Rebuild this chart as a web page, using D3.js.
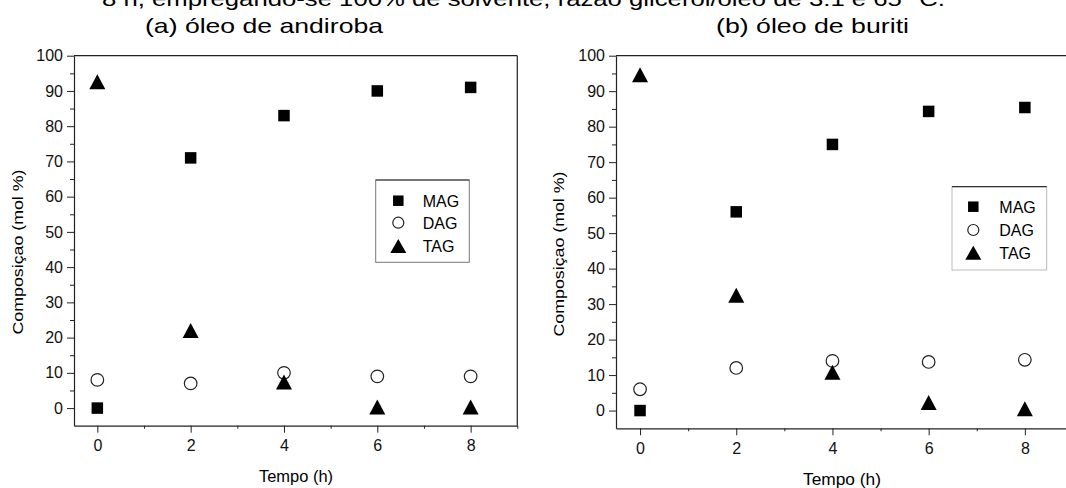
<!DOCTYPE html>
<html>
<head>
<meta charset="utf-8">
<script src="https://cdn.jsdelivr.net/npm/d3@7"></script>
<style>
  body { margin: 0; background: #fff; }
  svg { display: block; font-family: 'Liberation Sans', Arial, sans-serif; }
</style>
</head>
<body>
<div id="chart"></div>
<script>
// data
const tempo = [0, 2, 4, 6, 8]
const series = ['MAG', 'DAG', 'TAG']

const andirobaMAG = [0, 71, 83, 90, 91]
const andirobaDAG = [8, 7, 10, 9, 9]
const andirobaTAG = [92.6, 22, 7.4, 0.3, 0.3]

const buritiMAG = [0, 56, 75, 84.3, 85.4]
const buritiDAG = [6, 12, 14, 13.7, 14.3]
const buritiTAG = [94.6, 32.5, 10.8, 2.3, 0.5]

const yTicks = [0, 10, 20, 30, 40, 50, 60, 70, 80, 90, 100]
const yMinor = [5, 15, 25, 35, 45, 55, 65, 75, 85, 95]
const xTicks = [0, 2, 4, 6, 8]
const xMinor = [1, 3, 5, 7, 9]

const width = 1066
const height = 488

const svg = d3
  .select('#chart')
  .append('svg')
  .attr('width', width)
  .attr('height', height)

// top caption (partly cut off in the original) and panel titles
svg.append('text')
  .attr('x', 102).attr('y', 6)
  .attr('textLength', 843).attr('lengthAdjust', 'spacingAndGlyphs')
  .style('font-size', '21px')
  .text('8 h, empregando-se 100% de solvente, razão glicerol/óleo de 3:1 e 65 °C.')

const panels = [
  {
    title: '(a) óleo de andiroba', titleX: 145, titleW: 238,
    x0: 74, x1: 517.3, yTop: 55.7, yBot: 425.7, frameRight: true,
    values: { MAG: andirobaMAG, DAG: andirobaDAG, TAG: andirobaTAG },
    ylabX: 22.5, ylabY: 252, xlabX: 296, xlabY: 482, xlabW: 74,
    legend: { x: 375.7, y: 180, w: 93.6, h: 82.3, symX: 398.3, txtX: 422.7, rows: [200.7, 222.7, 246], sideColor: '#777' }
  },
  {
    title: '(b) óleo de buriti', titleX: 716, titleW: 193,
    x0: 616, x1: 616 + 9.5 * 48.1, yTop: 55.7, yBot: 428.3, frameRight: false,
    values: { MAG: buritiMAG, DAG: buritiDAG, TAG: buritiTAG },
    ylabX: 563.5, ylabY: 254, xlabX: 842, xlabY: 485, xlabW: 78,
    legend: { x: 952, y: 186.7, w: 94.7, h: 83.3, symX: 973.3, txtX: 999.3, rows: [206.7, 230, 252.7], sideColor: '#bbb' }
  }
]

// triangle with its bounding box centred on the data point
const triangle = (w, h) => `M0,${-h / 2}L${w / 2},${h / 2}L${-w / 2},${h / 2}Z`

function marker(g, name, big) {
  if (name === 'MAG') {
    const s = big ? 11.5 : 10.5
    g.append('rect').attr('x', -s / 2).attr('y', -s / 2).attr('width', s).attr('height', s).attr('fill', '#000')
  } else if (name === 'DAG') {
    g.append('circle').attr('r', big ? 6.3 : 5.5).attr('fill', '#fff').attr('stroke', '#222').attr('stroke-width', 1.2)
  } else {
    g.append('path').attr('d', big ? triangle(16, 15) : triangle(16, 14)).attr('fill', '#000')
  }
}

panels.forEach((p) => {
  const x = d3.scaleLinear().domain([-0.5, 9]).range([p.x0, p.x1])
  const y = d3.scaleLinear().domain([-5, 100]).range([p.yBot, p.yTop])
  const g = svg.append('g')

  svg.append('text')
    .attr('x', p.titleX).attr('y', 33)
    .attr('textLength', p.titleW).attr('lengthAdjust', 'spacingAndGlyphs')
    .style('font-size', '21px')
    .text(p.title)

  // frame lines
  g.append('line').attr('x1', x(-0.5)).attr('x2', x(9)).attr('y1', y(100)).attr('y2', y(100))
    .attr('stroke', '#222').attr('stroke-width', 1.2)
  if (p.frameRight) {
    g.append('line').attr('x1', x(9)).attr('x2', x(9)).attr('y1', y(100)).attr('y2', y(-5))
      .attr('stroke', '#222').attr('stroke-width', 1.2)
  }

  // y axis
  g.append('g').attr('transform', `translate(${x(-0.5)},0)`)
    .call(d3.axisLeft(y).tickValues(yTicks).tickSize(7).tickPadding(4).tickSizeOuter(0))
  g.append('g').attr('transform', `translate(${x(-0.5)},0)`)
    .call(d3.axisLeft(y).tickValues(yMinor).tickSize(4).tickFormat('').tickSizeOuter(0))
    .select('.domain').remove()

  // x axis
  g.append('g').attr('transform', `translate(0,${y(-5)})`)
    .call(d3.axisBottom(x).tickValues(xTicks).tickSize(7).tickPadding(7).tickSizeOuter(0))
  g.append('g').attr('transform', `translate(0,${y(-5)})`)
    .call(d3.axisBottom(x).tickValues(xMinor).tickSize(3).tickFormat('').tickSizeOuter(0))
    .select('.domain').remove()

  g.selectAll('.domain').attr('stroke', '#222').attr('stroke-width', 1.2)
  g.selectAll('.tick line').attr('stroke', '#222')
  g.selectAll('.tick text').style('font-size', '16px').style('font-family', "'Liberation Sans', Arial, sans-serif").attr('fill', '#111')

  // axis titles
  svg.append('text')
    .attr('transform', `translate(${p.ylabX},${p.ylabY}) rotate(-90)`)
    .attr('text-anchor', 'middle')
    .attr('textLength', 165).attr('lengthAdjust', 'spacingAndGlyphs')
    .style('font-size', '15px')
    .text('Composiçao (mol %)')

  svg.append('text')
    .attr('x', p.xlabX).attr('y', p.xlabY)
    .attr('text-anchor', 'middle')
    .attr('textLength', p.xlabW).attr('lengthAdjust', 'spacingAndGlyphs')
    .style('font-size', '16px')
    .text('Tempo (h)')

  // points
  series.forEach((s) => {
    g.selectAll(null)
      .data(tempo.map((t, i) => ({ t: t, v: p.values[s][i] })))
      .join('g')
      .attr('transform', (d) => `translate(${x(d.t)},${y(d.v)})`)
      .each(function () { marker(d3.select(this), s, true) })
  })

  // legend
  const L = p.legend
  const lg = svg.append('g')
  lg.append('rect').attr('x', L.x).attr('y', L.y).attr('width', L.w).attr('height', L.h)
    .attr('fill', '#fff').attr('stroke', L.sideColor).attr('stroke-width', 1)
  lg.append('line').attr('x1', L.x).attr('x2', L.x + L.w).attr('y1', L.y).attr('y2', L.y)
    .attr('stroke', '#333').attr('stroke-width', 1.2)
  series.forEach((s, i) => {
    const row = lg.append('g').attr('transform', `translate(${L.symX},${L.rows[i]})`)
    marker(row, s, false)
    lg.append('text').attr('x', L.txtX).attr('y', L.rows[i] + 5.8)
      .style('font-size', '16px').text(s)
  })
})
</script>
</body>
</html>
